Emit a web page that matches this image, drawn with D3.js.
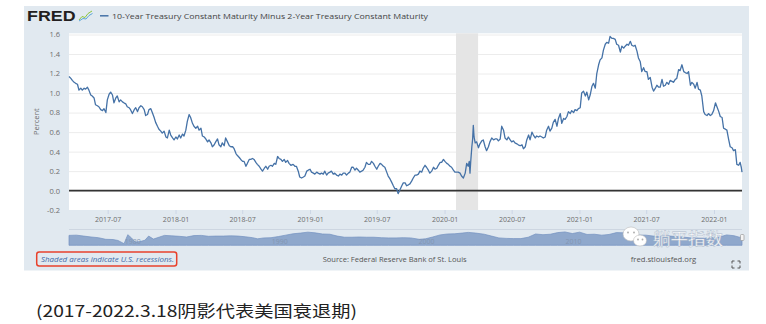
<!DOCTYPE html>
<html><head><meta charset="utf-8">
<script src="https://cdn.jsdelivr.net/npm/d3@7"></script>
<style>body{margin:0;background:#fff}svg{display:block}</style>
</head><body>
<svg id="c" width="766" height="324"></svg>
<script>
// ---------- DATA ----------
const seriesTitle = "10-Year Treasury Constant Maturity Minus 2-Year Treasury Constant Maturity";
const xDomain = ["2017-03-18", "2022-03-18"];
const xTicks = ["2017-07-01","2018-01-01","2018-07-01","2019-01-01","2019-07-01","2020-01-01","2020-07-01","2021-01-01","2021-07-01","2022-01-01"];
const yTicks = [-0.2, 0, 0.2, 0.4, 0.6, 0.8, 1.0, 1.2, 1.4, 1.6];
const recessions = [["2020-02-01", "2020-04-01"]];
const spread = [
["2017-03-18",1.17],["2017-03-23",1.15],["2017-03-27",1.13],["2017-04-01",1.11],["2017-04-05",1.10],["2017-04-10",1.09],["2017-04-14",1.03],["2017-04-19",1.05],["2017-04-23",1.03],["2017-04-28",1.05],
["2017-05-02",1.04],["2017-05-07",1.06],["2017-05-11",1.03],["2017-05-16",0.98],["2017-05-20",0.97],["2017-05-25",0.95],["2017-05-29",0.88],["2017-06-03",0.87],["2017-06-07",0.86],["2017-06-12",0.83],
["2017-06-17",0.82],["2017-06-21",0.84],["2017-06-26",0.80],["2017-06-30",0.93],["2017-07-05",0.99],["2017-07-09",1.01],["2017-07-14",0.98],["2017-07-18",0.90],["2017-07-23",0.95],["2017-07-27",0.97],
["2017-08-01",0.91],["2017-08-05",0.93],["2017-08-10",0.91],["2017-08-14",0.90],["2017-08-19",0.89],["2017-08-23",0.86],["2017-08-28",0.85],["2017-09-01",0.83],["2017-09-06",0.79],["2017-09-11",0.83],
["2017-09-15",0.85],["2017-09-20",0.81],["2017-09-24",0.85],["2017-09-29",0.87],["2017-10-03",0.86],["2017-10-08",0.83],["2017-10-12",0.77],["2017-10-17",0.78],["2017-10-21",0.83],["2017-10-26",0.84],
["2017-10-30",0.80],["2017-11-04",0.75],["2017-11-08",0.70],["2017-11-13",0.66],["2017-11-17",0.63],["2017-11-22",0.61],["2017-11-26",0.59],["2017-12-01",0.61],["2017-12-06",0.55],["2017-12-10",0.54],
["2017-12-15",0.62],["2017-12-19",0.57],["2017-12-24",0.54],["2017-12-28",0.52],["2018-01-02",0.55],["2018-01-06",0.53],["2018-01-11",0.57],["2018-01-15",0.54],["2018-01-20",0.58],["2018-01-24",0.56],
["2018-01-29",0.62],["2018-02-02",0.71],["2018-02-07",0.78],["2018-02-11",0.75],["2018-02-16",0.69],["2018-02-20",0.66],["2018-02-25",0.64],["2018-03-02",0.66],["2018-03-06",0.62],["2018-03-11",0.64],
["2018-03-15",0.56],["2018-03-20",0.55],["2018-03-24",0.53],["2018-03-29",0.50],["2018-04-02",0.52],["2018-04-07",0.49],["2018-04-11",0.45],["2018-04-16",0.47],["2018-04-20",0.50],["2018-04-25",0.53],
["2018-04-29",0.47],["2018-05-04",0.45],["2018-05-08",0.49],["2018-05-13",0.46],["2018-05-17",0.54],["2018-05-22",0.50],["2018-05-27",0.46],["2018-05-31",0.45],["2018-06-05",0.45],["2018-06-09",0.43],
["2018-06-14",0.38],["2018-06-18",0.36],["2018-06-23",0.34],["2018-06-27",0.32],["2018-07-02",0.30],["2018-07-06",0.30],["2018-07-11",0.25],["2018-07-15",0.28],["2018-07-20",0.32],["2018-07-24",0.32],
["2018-07-29",0.33],["2018-08-02",0.32],["2018-08-07",0.29],["2018-08-11",0.27],["2018-08-16",0.25],["2018-08-21",0.22],["2018-08-25",0.20],["2018-08-30",0.23],["2018-09-03",0.25],["2018-09-08",0.22],
["2018-09-12",0.25],["2018-09-17",0.26],["2018-09-21",0.25],["2018-09-26",0.28],["2018-09-30",0.27],["2018-10-05",0.35],["2018-10-09",0.33],["2018-10-14",0.32],["2018-10-18",0.30],["2018-10-23",0.32],
["2018-10-27",0.29],["2018-11-01",0.31],["2018-11-05",0.28],["2018-11-10",0.26],
["2018-11-16",0.27],["2018-11-21",0.25],["2018-11-25",0.25],["2018-11-30",0.20],["2018-12-04",0.14],["2018-12-09",0.13],["2018-12-14",0.14],["2018-12-18",0.15],["2018-12-23",0.20],["2018-12-27",0.21],
["2019-01-01",0.22],["2019-01-05",0.19],["2019-01-10",0.18],["2019-01-14",0.17],["2019-01-19",0.19],["2019-01-23",0.18],["2019-01-28",0.17],["2019-02-01",0.18],["2019-02-06",0.17],["2019-02-10",0.20],
["2019-02-15",0.16],["2019-02-19",0.18],["2019-02-24",0.19],["2019-02-28",0.20],["2019-03-05",0.17],["2019-03-09",0.18],["2019-03-14",0.16],["2019-03-19",0.15],["2019-03-23",0.17],["2019-03-28",0.16],
["2019-04-01",0.18],["2019-04-06",0.18],["2019-04-10",0.16],["2019-04-15",0.18],["2019-04-19",0.19],["2019-04-24",0.24],["2019-04-28",0.24],["2019-05-03",0.21],["2019-05-07",0.23],["2019-05-12",0.21],
["2019-05-16",0.19],["2019-05-21",0.20],["2019-05-25",0.21],["2019-05-30",0.24],["2019-06-03",0.29],["2019-06-08",0.27],["2019-06-13",0.27],["2019-06-17",0.30],["2019-06-22",0.28],["2019-06-26",0.25],
["2019-07-01",0.22],["2019-07-05",0.25],["2019-07-10",0.28],["2019-07-14",0.27],["2019-07-19",0.25],["2019-07-23",0.24],["2019-07-28",0.19],["2019-08-01",0.15],["2019-08-06",0.12],["2019-08-10",0.09],
["2019-08-15",0.05],["2019-08-19",0.02],["2019-08-24",0.02],["2019-08-28",-0.03],["2019-09-02",0.01],["2019-09-07",0.05],["2019-09-11",0.08],["2019-09-16",0.08],["2019-09-20",0.05],["2019-09-25",0.06],
["2019-09-29",0.07],["2019-10-04",0.10],["2019-10-08",0.13],["2019-10-13",0.16],["2019-10-17",0.16],["2019-10-22",0.17],["2019-10-26",0.20],["2019-10-31",0.19],["2019-11-04",0.23],["2019-11-09",0.26],
["2019-11-13",0.24],["2019-11-18",0.21],["2019-11-22",0.18],["2019-11-27",0.20],["2019-12-02",0.24],["2019-12-06",0.22],["2019-12-11",0.23],["2019-12-15",0.26],["2019-12-20",0.29],["2019-12-24",0.29],
["2019-12-29",0.32],["2020-01-02",0.30],["2020-01-07",0.28],["2020-01-11",0.27],["2020-01-16",0.25],["2020-01-20",0.24],["2020-01-25",0.21],["2020-01-29",0.19],["2020-02-03",0.19],["2020-02-07",0.19],
["2020-02-12",0.18],["2020-02-16",0.15],["2020-02-21",0.13],["2020-02-26",0.18],["2020-03-01",0.28],["2020-03-05",0.25],["2020-03-08",0.30],["2020-03-10",0.18],["2020-03-12",0.30],["2020-03-15",0.45],
["2020-03-17",0.52],["2020-03-19",0.67],["2020-03-21",0.55],["2020-03-24",0.49],["2020-03-28",0.50],["2020-04-02",0.44],["2020-04-06",0.48],["2020-04-11",0.51],["2020-04-15",0.52],["2020-04-20",0.45],
["2020-04-24",0.41],["2020-04-29",0.45],["2020-05-03",0.50],["2020-05-08",0.54],["2020-05-13",0.52],["2020-05-17",0.53],["2020-05-22",0.53],["2020-05-26",0.51],["2020-05-31",0.53],["2020-06-04",0.66],
["2020-06-09",0.62],["2020-06-13",0.54],["2020-06-18",0.52],["2020-06-22",0.55],["2020-06-27",0.52],["2020-07-01",0.50],["2020-07-06",0.51],["2020-07-10",0.49],["2020-07-15",0.48],
["2020-07-19",0.47],["2020-07-24",0.46],["2020-07-29",0.47],["2020-08-02",0.43],["2020-08-07",0.45],["2020-08-11",0.52],["2020-08-16",0.57],["2020-08-20",0.52],["2020-08-25",0.60],["2020-08-29",0.57],
["2020-09-03",0.54],["2020-09-07",0.56],["2020-09-12",0.55],["2020-09-16",0.56],["2020-09-21",0.55],["2020-09-25",0.54],["2020-09-30",0.55],["2020-10-04",0.62],["2020-10-09",0.66],["2020-10-13",0.61],
["2020-10-18",0.64],["2020-10-22",0.70],["2020-10-27",0.73],["2020-11-01",0.66],["2020-11-05",0.74],["2020-11-10",0.79],["2020-11-14",0.69],["2020-11-19",0.74],["2020-11-23",0.73],["2020-11-28",0.76],
["2020-12-02",0.81],["2020-12-07",0.79],["2020-12-11",0.82],["2020-12-16",0.80],["2020-12-20",0.83],["2020-12-25",0.82],["2020-12-29",0.84],["2021-01-03",0.85],["2021-01-07",1.00],["2021-01-12",1.02],
["2021-01-17",0.97],["2021-01-21",1.01],["2021-01-26",0.93],["2021-01-30",0.98],["2021-02-04",1.07],["2021-02-08",1.10],["2021-02-13",1.05],["2021-02-17",1.20],["2021-02-22",1.29],["2021-02-26",1.34],
["2021-03-03",1.36],["2021-03-07",1.44],["2021-03-12",1.50],["2021-03-16",1.52],["2021-03-21",1.51],["2021-03-25",1.58],["2021-03-30",1.56],["2021-04-03",1.56],["2021-04-08",1.55],["2021-04-12",1.50],
["2021-04-17",1.49],["2021-04-22",1.42],["2021-04-26",1.48],["2021-05-01",1.46],["2021-05-05",1.48],["2021-05-10",1.50],["2021-05-14",1.49],["2021-05-19",1.53],["2021-05-23",1.49],["2021-05-28",1.48],
["2021-06-01",1.49],["2021-06-06",1.43],["2021-06-10",1.36],["2021-06-15",1.32],["2021-06-19",1.22],["2021-06-24",1.26],["2021-06-28",1.22],["2021-07-03",1.22],["2021-07-07",1.14],["2021-07-12",1.16],
["2021-07-17",1.06],["2021-07-21",1.02],["2021-07-26",1.05],["2021-07-30",1.08],["2021-08-04",1.06],["2021-08-08",1.06],["2021-08-13",1.14],["2021-08-17",1.07],["2021-08-22",1.08],["2021-08-26",1.11],
["2021-08-31",1.09],["2021-09-04",1.13],["2021-09-09",1.12],["2021-09-13",1.11],["2021-09-18",1.14],["2021-09-22",1.15],["2021-09-27",1.24],["2021-10-01",1.23],["2021-10-06",1.29],["2021-10-11",1.22],
["2021-10-15",1.21],["2021-10-20",1.20],["2021-10-24",1.22],["2021-10-29",1.08],["2021-11-02",1.11],["2021-11-07",1.09],["2021-11-11",1.05],["2021-11-16",1.11],["2021-11-20",1.04],["2021-11-25",1.03],
["2021-11-29",0.97],["2021-12-04",0.81],["2021-12-08",0.78],["2021-12-13",0.77],["2021-12-17",0.79],["2021-12-22",0.77],["2021-12-26",0.78],["2021-12-31",0.82],["2022-01-05",0.90],["2022-01-09",0.86],
["2022-01-14",0.81],["2022-01-18",0.76],["2022-01-23",0.75],["2022-01-27",0.64],["2022-02-01",0.63],["2022-02-05",0.62],["2022-02-10",0.52],["2022-02-14",0.45],["2022-02-19",0.44],["2022-02-23",0.41],
["2022-02-28",0.42],["2022-03-04",0.27],["2022-03-09",0.26],["2022-03-13",0.29],["2022-03-16",0.24],["2022-03-18",0.19]
];
// navigator: full-history overview (approximate readings)
const navDomain = ["1976-06-01", "2022-03-18"];
const navHistory = [
["1976-06-01",1.3],["1976-12-01",1.4],["1977-06-01",1.0],["1977-12-01",0.6],["1978-06-01",0.3],["1978-12-01",-0.4],["1979-06-01",-0.5],["1979-10-01",-0.9],
["1980-03-01",-2.3],["1980-06-01",1.6],["1980-09-01",0.2],["1980-12-01",-1.6],["1981-04-01",-1.4],["1981-08-01",-0.8],["1981-11-01",1.0],["1982-03-01",-0.3],
["1982-08-01",0.6],["1982-12-01",1.3],["1983-06-01",1.1],["1983-12-01",0.9],["1984-06-01",0.6],["1984-12-01",1.2],["1985-06-01",1.3],["1985-12-01",0.9],
["1986-06-01",1.0],["1986-12-01",1.0],["1987-06-01",1.1],["1987-12-01",1.0],["1988-06-01",0.7],["1988-12-01",0.3],["1989-04-01",-0.2],["1989-09-01",0.2],
["1990-03-01",0.3],["1990-09-01",0.8],["1991-03-01",1.4],["1991-09-01",2.0],["1992-03-01",2.3],["1992-09-01",2.7],["1993-03-01",2.4],["1993-09-01",1.9],
["1994-03-01",1.8],["1994-09-01",1.0],["1995-03-01",0.5],["1995-09-01",0.5],["1996-03-01",0.6],["1996-09-01",0.5],["1997-03-01",0.5],["1997-09-01",0.3],
["1998-03-01",0.2],["1998-09-01",0.2],["1999-03-01",0.3],["1999-09-01",0.2],["2000-04-01",-0.4],["2000-09-01",-0.2],["2001-03-01",0.6],["2001-09-01",1.5],
["2002-03-01",1.9],["2002-09-01",2.0],["2003-03-01",2.3],["2003-08-01",2.6],["2004-02-01",2.3],["2004-09-01",1.8],["2005-03-01",1.0],["2005-09-01",0.2],
["2006-03-01",0.0],["2006-09-01",-0.1],["2007-03-01",-0.1],["2007-09-01",0.5],["2008-03-01",1.9],["2008-09-01",1.6],["2009-03-01",1.8],["2009-09-01",2.5],
["2010-03-01",2.8],["2010-09-01",2.1],["2011-03-01",2.7],["2011-09-01",1.7],["2012-03-01",1.8],["2012-09-01",1.4],["2013-03-01",1.7],["2013-09-01",2.5],
["2014-03-01",2.4],["2014-09-01",1.9],["2015-03-01",1.4],["2015-09-01",1.4],["2016-03-01",1.0],["2016-09-01",0.9],["2017-03-01",1.1],["2017-09-01",0.8],
["2018-03-01",0.6],["2018-09-01",0.25],["2019-03-01",0.15],["2019-09-01",0.05],["2020-03-01",0.45],["2020-09-01",0.55],["2021-03-01",1.5],["2021-09-01",1.15],["2022-03-18",0.2]
];
const navLabels = ["1980", "1990", "2000", "2010"];
const recessionNote = "Shaded areas indicate U.S. recessions.";
const sourceNote = "Source: Federal Reserve Bank of St. Louis";
const siteNote = "fred.stlouisfed.org";
const caption = "(2017-2022.3.18阴影代表美国衰退期)";
const watermark = "躺平指数";

// ---------- DRAW ----------
const parse = d3.utcParse("%Y-%m-%d");
const svg = d3.select("#c");
const FONT = "'Open Sans', 'DejaVu Sans', sans-serif";
const plot = {l: 69, r: 742, t: 33.3, b: 210};

svg.append("rect").attr("x", 24).attr("y", 6).attr("width", 725).attr("height", 264.5).attr("fill", "#e1e9f0");
svg.append("rect").attr("x", plot.l).attr("y", plot.t).attr("width", plot.r - plot.l).attr("height", plot.b - plot.t).attr("fill", "#fff");

const x = d3.scaleUtc().domain(xDomain.map(parse)).range([plot.l, plot.r]);
const y = d3.scaleLinear().domain([-0.2, 1.6]).range([210.2, 34.5]);

// grid
const grid = svg.append("g").attr("transform", `translate(${plot.l},0)`)
  .call(d3.axisLeft(y).tickValues(yTicks.filter(v => v > -0.2)).tickSize(-(plot.r - plot.l)).tickFormat(""));
grid.select(".domain").remove();
grid.selectAll("line").attr("stroke", "#ececec");

// recessions
svg.append("g").selectAll("rect").data(recessions).join("rect")
  .attr("x", d => x(parse(d[0]))).attr("width", d => x(parse(d[1])) - x(parse(d[0])))
  .attr("y", plot.t).attr("height", plot.b - plot.t).attr("fill", "#e5e5e5");

// y axis labels
const ya = svg.append("g").attr("transform", `translate(${plot.l},0)`)
  .call(d3.axisLeft(y).tickValues(yTicks).tickSize(0).tickPadding(9).tickFormat(d => d.toFixed(1)));
ya.select(".domain").remove();
ya.selectAll("text").attr("font-family", FONT).attr("font-size", 7.5).attr("fill", "#6d6d6d");

// x axis
const xa = svg.append("g").attr("transform", `translate(0,${plot.b})`)
  .call(d3.axisBottom(x).tickValues(xTicks.map(parse)).tickSize(4).tickPadding(3).tickFormat(d3.utcFormat("%Y-%m")));
xa.select(".domain").remove();
xa.selectAll("line").attr("stroke", "#ccd6e6");
xa.selectAll("text").attr("font-family", FONT).attr("font-size", 7).attr("fill", "#6d6d6d");

// y title
svg.append("text").attr("transform", `translate(39,${(plot.t + plot.b) / 2}) rotate(-90)`)
  .attr("text-anchor", "middle").attr("font-family", FONT).attr("font-size", 7.5).attr("fill", "#6d6d6d").text("Percent");

// zero line
svg.append("line").attr("x1", plot.l).attr("x2", plot.r).attr("y1", y(0)).attr("y2", y(0))
  .attr("stroke", "#333").attr("stroke-width", 1.8);

// series
const line = d3.line().x(d => x(parse(d[0]))).y(d => y(d[1]));
svg.append("path").datum(spread).attr("d", line).attr("fill", "none")
  .attr("stroke", "#4572a7").attr("stroke-width", 1.3).attr("stroke-linejoin", "round");

// navigator
const nx = d3.scaleUtc().domain(navDomain.map(parse)).range([plot.l, plot.r]);
const ny = d3.scaleLinear().domain([-3.0, 3.2]).range([245.3, 231]);
svg.append("line").attr("x1", plot.l).attr("x2", plot.r).attr("y1", 229.5).attr("y2", 229.5).attr("stroke", "#cdd6e1");
const area = d3.area().x(d => nx(parse(d[0]))).y0(245.3).y1(d => ny(d[1]));
svg.append("path").datum(navHistory).attr("d", area).attr("fill", "#8fa8cc").attr("stroke", "#7391c0").attr("stroke-width", 0.7);
svg.append("g").selectAll("text").data(navLabels).join("text")
  .attr("x", d => nx(parse(d + "-01-01")) + 3).attr("y", 243.5)
  .attr("font-family", FONT).attr("font-size", 7).attr("fill", "#8295b2").text(d => d);
svg.append("rect").attr("x", 740.5).attr("y", 234.5).attr("width", 3.5).attr("height", 6).attr("rx", 1)
  .attr("fill", "#f4f4f4").attr("stroke", "#999").attr("stroke-width", 0.7);

// watermark
const wm = svg.append("g");
wm.append("ellipse").attr("cx", 631).attr("cy", 234).attr("rx", 8).attr("ry", 7).attr("fill", "#fff").attr("stroke", "#bbb").attr("stroke-width", 0.6);
wm.append("ellipse").attr("cx", 640).attr("cy", 240.5).attr("rx", 6.5).attr("ry", 5.5).attr("fill", "#fff").attr("stroke", "#bbb").attr("stroke-width", 0.6);
[[628,232.5],[634,232.5],[638,239.5],[642.5,239.5]].forEach(p => wm.append("circle").attr("cx", p[0]).attr("cy", p[1]).attr("r", 0.9).attr("fill", "#aaa"));
wm.append("text").attr("x", 653).attr("y", 245).attr("font-family", "'Noto Sans CJK SC', sans-serif").attr("font-size", 17)
  .attr("textLength", 70).attr("lengthAdjust", "spacingAndGlyphs")
  .attr("fill", "#fff").attr("stroke", "#a9b6c8").attr("stroke-width", 0.4).text(watermark);

// header
svg.append("text").attr("x", 27).attr("y", 21.3).attr("font-family", "'Liberation Sans', Arial, sans-serif").attr("font-weight", "bold")
  .attr("font-size", 15.5).attr("textLength", 48.5).attr("lengthAdjust", "spacingAndGlyphs").attr("fill", "#231f20").text("FRED");
svg.append("polyline").attr("points", "79,20 82,16.5 85,17.5 88,13.5 92,11").attr("fill", "none").attr("stroke", "#8dc63f").attr("stroke-width", 1);
svg.append("polyline").attr("points", "79,21 83,18.5 86,19 89,15.5 92.5,13.5").attr("fill", "none").attr("stroke", "#5ea6d8").attr("stroke-width", 1);
svg.append("line").attr("x1", 100).attr("x2", 108.5).attr("y1", 15.8).attr("y2", 15.8).attr("stroke", "#4572a7").attr("stroke-width", 1.5);
svg.append("text").attr("x", 112).attr("y", 19).attr("font-family", FONT).attr("font-size", 8)
  .attr("textLength", 316).attr("lengthAdjust", "spacingAndGlyphs").attr("fill", "#444").text(seriesTitle);

// footer
svg.append("text").attr("x", 41).attr("y", 262).attr("font-family", FONT).attr("font-size", 7.5).attr("font-style", "italic")
  .attr("textLength", 133).attr("lengthAdjust", "spacingAndGlyphs").attr("fill", "#3f6aa8").text(recessionNote);
svg.append("rect").attr("x", 36.7).attr("y", 252).attr("width", 140).attr("height", 14).attr("rx", 2.5)
  .attr("fill", "none").attr("stroke", "#e8412c").attr("stroke-width", 1.5);
svg.append("text").attr("x", 322.7).attr("y", 262).attr("font-family", FONT).attr("font-size", 7.5)
  .attr("textLength", 144).attr("lengthAdjust", "spacingAndGlyphs").attr("fill", "#555").text(sourceNote);
svg.append("text").attr("x", 630.7).attr("y", 262).attr("font-family", FONT).attr("font-size", 7.5)
  .attr("textLength", 65.5).attr("lengthAdjust", "spacingAndGlyphs").attr("fill", "#555").text(siteNote);
svg.append("path").attr("d", "M732,263.5V261H734.5M737.5,261H740V263.5M740,265.5V268H737.5M734.5,268H732V265.5")
  .attr("fill", "none").attr("stroke", "#555").attr("stroke-width", 1);

// caption
svg.append("text").attr("x", 36).attr("y", 316.5).attr("font-family", "'Noto Sans CJK SC', sans-serif").attr("font-size", 16)
  .attr("textLength", 321).attr("lengthAdjust", "spacingAndGlyphs").attr("fill", "#222").text(caption);
</script>
</body></html>
